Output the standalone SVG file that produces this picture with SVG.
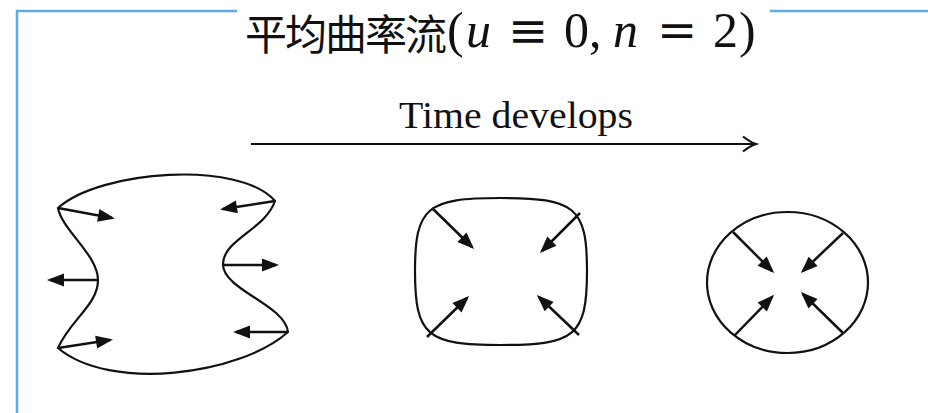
<svg xmlns="http://www.w3.org/2000/svg" width="928" height="413" viewBox="0 0 928 413">
<style>
.frame{fill:none;stroke:#5aade6;stroke-width:2.5}
.curve{fill:none;stroke:#111;stroke-width:2.2}
.vec{fill:none;stroke:#111;stroke-width:2.5;marker-end:url(#head)}
.cjk{font-family:"Noto Sans CJK SC","Noto Sans",sans-serif;font-size:42px;fill:#111}
.math{font-family:"Liberation Serif","Times New Roman",serif;font-size:50px;fill:#111}
.rel{font-family:"DejaVu Serif",serif;font-size:48px;fill:#111}
.it{font-style:italic}
.lbl{font-family:"Liberation Serif","Times New Roman",serif;font-size:37px;fill:#111}
</style>
<defs>
<marker id="head" markerUnits="userSpaceOnUse" markerWidth="18" markerHeight="14" refX="14" refY="6.5" orient="auto" overflow="visible">
<path d="M0,0 L17,6.5 L0,13 Z" fill="#111"/>
</marker>
</defs>
<rect width="928" height="413" fill="#fff"/>
<g id="frame">
<path class="frame" d="M237,11 H17 V413"/>
<path class="frame" d="M770,11 H928"/>
</g>
<g id="title">
<text class="cjk" y="50"><tspan x="245">平</tspan><tspan x="285">均</tspan><tspan x="325">曲</tspan><tspan x="365">率</tspan><tspan x="405">流</tspan></text>
<text class="math" y="47"><tspan x="447">(</tspan><tspan x="466" class="it">u</tspan><tspan x="564">0</tspan><tspan x="589">,</tspan><tspan x="613" class="it">n</tspan><tspan x="713">2</tspan><tspan x="739">)</tspan></text>
<text class="rel" x="508" y="47">≡</text>
<text class="rel" x="657" y="47">=</text>
</g>
<g id="time-arrow">
<text class="lbl" x="399" y="128" textLength="234" lengthAdjust="spacingAndGlyphs">Time develops</text>
<path class="curve" d="M251,144 H755"/>
<path class="curve" d="M743,136.5 Q750,142 756,144 Q750,146 743,151.5"/>
</g>
<g id="shape1">
<path class="curve" d="M58,208 C100,170 240,160 275,201 C265,230 222,240 223,265 C224,290 285,305 288,332 C240,375 110,392 58,348 C70,320 98,305 98,280 C98,255 62,230 58,208 Z"/>
<g id="shape1-normals">
<path class="vec" d="M58,208 L112,218"/>
<path class="vec" d="M98,280 L50,280"/>
<path class="vec" d="M58,348 L110,340"/>
<path class="vec" d="M275,201 L223,209"/>
<path class="vec" d="M223,265 L276,265"/>
<path class="vec" d="M288,332 L236,332"/>
</g>
</g>
<g id="shape2">
<path class="curve" d="M415,271 C415,207 427,198 501,198 C575,198 587,207 587,271 C587,336 575,345 501,345 C427,345 415,336 415,271 Z"/>
<g id="shape2-normals">
<path class="vec" d="M432,208 L472,247"/>
<path class="vec" d="M580,213 L542,251"/>
<path class="vec" d="M427,337 L467,298"/>
<path class="vec" d="M579,335 L539,297"/>
</g>
</g>
<g id="shape3">
<ellipse class="curve" cx="787.5" cy="282.5" rx="80.5" ry="70.5"/>
<g id="shape3-normals">
<path class="vec" d="M733,232 L772,271"/>
<path class="vec" d="M843,233 L803,271"/>
<path class="vec" d="M735,335 L772,297"/>
<path class="vec" d="M843,333 L803,294"/>
</g>
</g>
</svg>
